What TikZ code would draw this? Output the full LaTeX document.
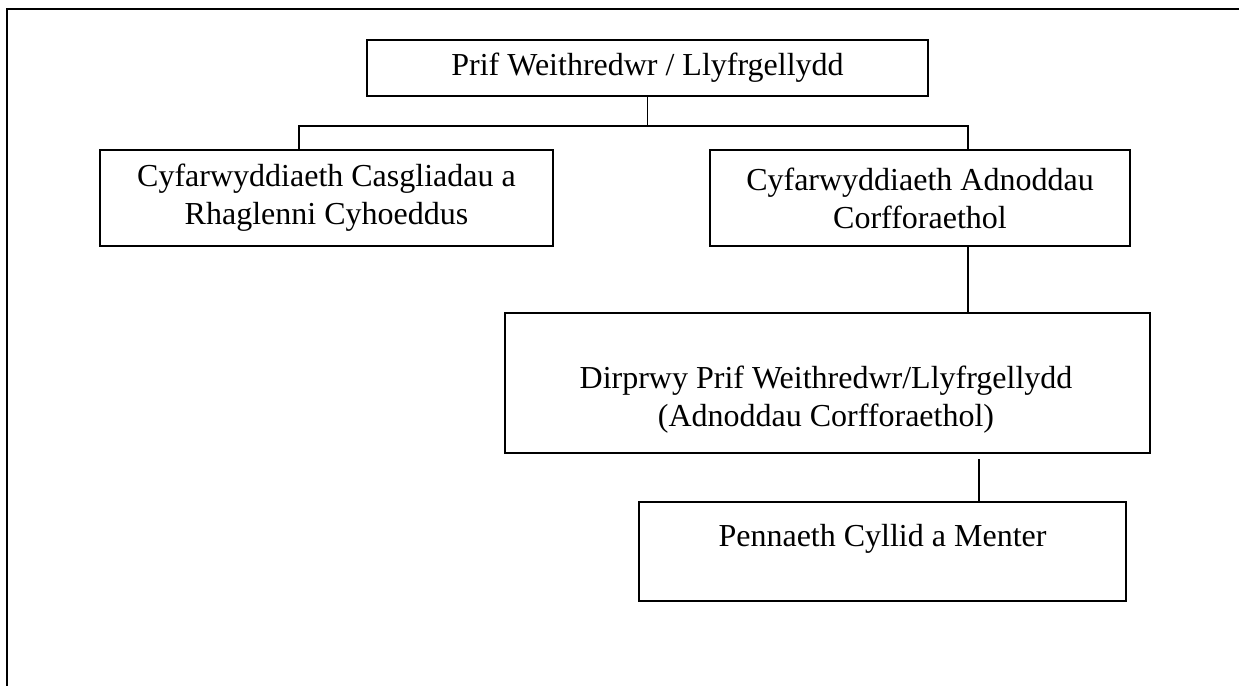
\documentclass[tikz,border=0pt]{standalone}
\usepackage{fontspec}
\setmainfont{Liberation Serif}
\usepackage{tikz}

\begin{document}
\begin{tikzpicture}[x=0.375pt, y=-0.375pt,
  every node/.append style={font=\fontsize{12}{14.2}\selectfont, text=black},
  box/.style={draw, line width=0.7pt, inner sep=0pt, align=center},
  link/.style={draw, line width=0.6pt},
  frame/.style={draw, line width=1.1pt}]
\useasboundingbox (0,0) rectangle (1239,686);
\draw[frame] (1239,9) -- (7,9) -- (7,686);

\node[box, minimum width=210.4pt, minimum height=21pt] (chief) at (647.5,68) {Prif Weithredwr / Llyfrgellydd};
\node[box, minimum width=169.9pt, minimum height=36pt] (collections) at (326.5,198)
  {Cyfarwyddiaeth Casgliadau a\\Rhaglenni Cyhoeddus};
\node[box, minimum width=157.5pt, minimum height=36pt] (corporate) at (920,198)
  {Cyfarwyddiaeth Adnoddau\\Corfforaethol};
\node[box, minimum width=241.9pt, minimum height=52.5pt] (deputy) at (827.5,383) {};
\node[align=center] (deputytext) at (826,400)
  {Dirprwy Prif Weithredwr/Llyfrgellydd\\(Adnoddau Corfforaethol)};
\node[box, minimum width=182.6pt, minimum height=37.1pt] (finance) at (882.5,551.5) {};
\node (financetext) at (882.5,538.5) {Pennaeth Cyllid a Menter};

\coordinate (split) at (647.5,126);
\coordinate (gap) at (979,459);
\draw[link] (chief.south) -- (split);
\draw[link] ([xshift=-10.3pt]collections.north) |- (split) -| ([xshift=18pt]corporate.north);
\draw[link] ([xshift=18pt]corporate.south) -- ([xshift=18pt]corporate.south |- deputy.north);
\draw[link] (gap) -- (gap |- finance.north);
\end{tikzpicture}
\end{document}
